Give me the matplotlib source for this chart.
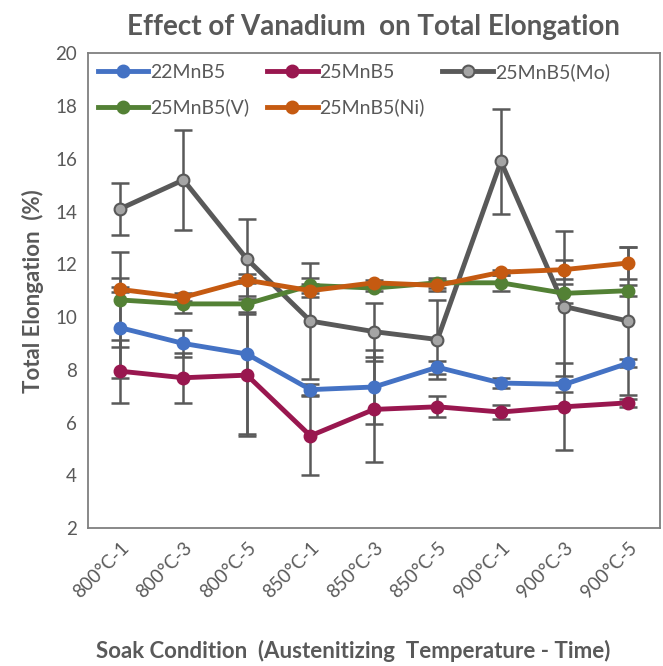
import matplotlib
matplotlib.use("Agg")
import matplotlib.pyplot as plt
import numpy as np

plt.rcParams["font.family"] = ["Lato", "DejaVu Sans"]

conditions = ["800°C-1", "800°C-3", "800°C-5", "850°C-1", "850°C-3",
              "850°C-5", "900°C-1", "900°C-3", "900°C-5"]

# mean total elongation (%)
mn22 = [9.6, 9.0, 8.6, 7.25, 7.35, 8.1, 7.5, 7.45, 8.25]
mn25 = [7.95, 7.7, 7.8, 5.5, 6.5, 6.6, 6.4, 6.6, 6.75]
mn25_mo = [14.1, 15.2, 12.2, 9.85, 9.45, 9.15, 15.9, 10.4, 9.85]
mn25_v = [10.65, 10.5, 10.5, 11.2, 11.1, 11.3, 11.3, 10.9, 11.0]
mn25_ni = [11.05, 10.75, 11.4, 11.0, 11.3, 11.2, 11.7, 11.8, 12.05]

# standard deviation (error bars)
mn22_err = [1.9, 0.5, 3.05, 0.2, 1.4, 0.25, 0.2, 0.3, 0.15]
mn25_err = [1.2, 0.95, 2.3, 1.5, 2.0, 0.4, 0.25, 1.65, 0.15]
mn25_mo_err = [1.0, 1.9, 1.5, 2.2, 1.1, 1.5, 2.0, 2.85, 2.8]
mn25_v_err = [1.8, 0.35, 0.3, 0.3, 0.1, 0.2, 0.3, 0.35, 0.2]
mn25_ni_err = [0.1, 0.15, 0.1, 0.25, 0.1, 0.2, 0.1, 0.35, 0.6]

series = [
    ("22MnB5", mn22, mn22_err, "#4472C4", "#4472C4"),
    ("25MnB5", mn25, mn25_err, "#99174F", "#99174F"),
    ("25MnB5(Mo)", mn25_mo, mn25_mo_err, "#595959", "#A5A5A5"),
    ("25MnB5(V)", mn25_v, mn25_v_err, "#538135", "#538135"),
    ("25MnB5(Ni)", mn25_ni, mn25_ni_err, "#C55A11", "#C55A11"),
]

fig = plt.figure(figsize=(6.63, 6.66), dpi=100)
ax = fig.add_axes([0.133, 0.207, 0.862, 0.713])

x = np.arange(len(conditions))
handles = {}
for name, vals, err, col, face in series:
    ax.errorbar(x, vals, yerr=err, fmt="none", ecolor="#595959",
                elinewidth=1.8, capsize=6.5, capthick=1.8, zorder=1)
    h, = ax.plot(x, vals, color=col, lw=3.5, marker="o", markersize=8.5,
                 markerfacecolor=face, markeredgecolor=col, markeredgewidth=1.5,
                 label=name, zorder=3)
    handles[name] = h

ax.set_xlim(-0.5, len(conditions) - 0.5)
ax.set_ylim(2, 20)
ax.set_yticks(np.arange(2, 21, 2))
ax.set_xticks(x)
ax.set_xticklabels(conditions, rotation=45, ha="right", rotation_mode="anchor")
ax.tick_params(axis="both", length=0, labelsize=13.5, colors="#595959", pad=8)
for s in ax.spines.values():
    s.set_color("#7F7F7F")
    s.set_linewidth(1.3)

ax.set_title("Effect of Vanadium  on Total Elongation", fontsize=20,
             fontweight="bold", color="#595959", pad=13)
ax.set_ylabel("Total Elongation  (%)", fontsize=16, fontweight="bold",
              color="#595959", labelpad=8)
fig.text(0.532, 0.012, "Soak Condition  (Austenitizing  Temperature - Time)",
         ha="center", fontsize=16, fontweight="bold", color="#595959")

# column-wise fill so rows read: 22, 25, Mo / V, Ni
order = ["22MnB5", "25MnB5(V)", "25MnB5", "25MnB5(Ni)", "25MnB5(Mo)"]
leg = ax.legend([handles[k] for k in order], order, ncol=3, loc="upper left",
                frameon=False, fontsize=14, handlelength=2.6,
                handletextpad=0.1, columnspacing=0.9,
                borderaxespad=0.1, labelspacing=0.9)
for t in leg.get_texts():
    t.set_color("#595959")

fig.savefig("out.png", dpi=100)
